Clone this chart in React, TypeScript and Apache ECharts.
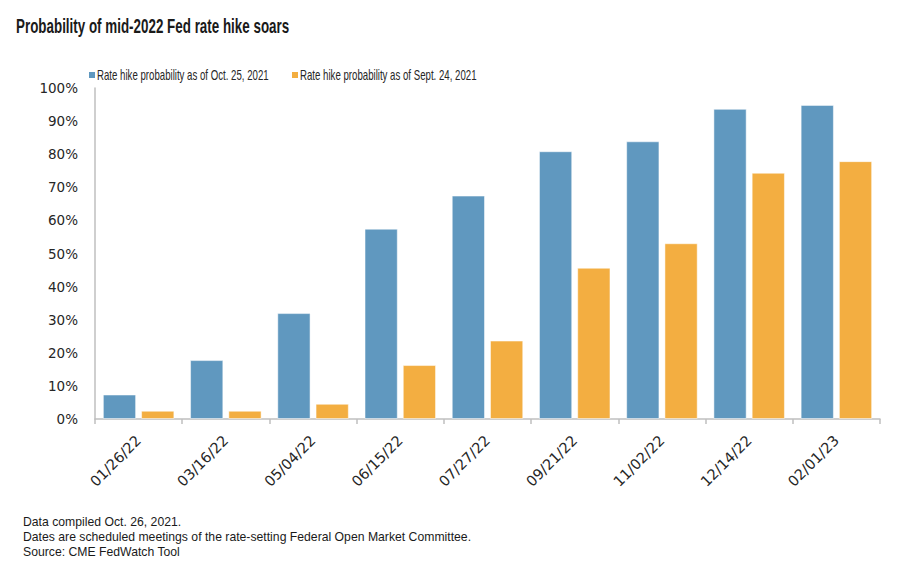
import React, { useEffect, useRef } from "react";
import * as echarts from "echarts";

const categories = ["01/26/22", "03/16/22", "05/04/22", "06/15/22", "07/27/22", "09/21/22", "11/02/22", "12/14/22", "02/01/23"];
const octValues = [7.4, 17.8, 32.0, 57.5, 67.5, 80.9, 83.9, 93.7, 94.9];
const septValues = [2.5, 2.5, 4.6, 16.3, 23.7, 45.7, 53.1, 74.4, 77.9];
const seriesNames = ["Rate hike probability as of Oct. 25, 2021", "Rate hike probability as of Sept. 24, 2021"];
const seriesColors = ["#6098bf", "#f3ae41"];
const titleText = "Probability of mid-2022 Fed rate hike soars";
const footnotes = [
  "Data compiled Oct. 26, 2021.",
  "Dates are scheduled meetings of the rate-setting Federal Open Market Committee.",
  "Source: CME FedWatch Tool",
];

const SANS = "'Liberation Sans', Arial, sans-serif";
const AXISFONT = "'DejaVu Sans', sans-serif";

export default function App() {
  const ref = useRef<HTMLDivElement>(null);
  useEffect(() => {
    if (!ref.current) return;
    const chart = echarts.init(ref.current, undefined, { renderer: "svg" });
    const legendX = [89, 292];
    const graphic: any[] = [
      {
        type: "text",
        x: 16,
        y: 27,
        scaleX: 0.67,
        style: { text: titleText, fontFamily: SANS, fontSize: 20, fontWeight: "bold", fill: "#1a1a1a", verticalAlign: "middle" },
      },
    ];
    seriesNames.forEach((name, i) => {
      graphic.push({
        type: "rect",
        shape: { x: legendX[i], y: 72, width: 6, height: 6 },
        style: { fill: seriesColors[i] },
      });
      graphic.push({
        type: "text",
        x: legendX[i] + 8,
        y: 75,
        scaleX: 0.69,
        style: { text: name, fontFamily: SANS, fontSize: 14, fill: "#262626", verticalAlign: "middle" },
      });
    });
    footnotes.forEach((t, i) => {
      graphic.push({
        type: "text",
        x: 23,
        y: 522 + i * 15,
        scaleX: 0.94,
        style: { text: t, fontFamily: SANS, fontSize: 13, fill: "#1a1a1a", verticalAlign: "middle" },
      });
    });
    chart.setOption({
      animation: false,
      backgroundColor: "#ffffff",
      legend: { show: false, data: seriesNames },
      grid: { left: 95, right: 28, top: 88, bottom: 169, containLabel: false },
      xAxis: {
        type: "category",
        data: categories,
        axisLine: { lineStyle: { color: "#bfbfbf", width: 1.5 } },
        axisTick: { show: true, length: 5, lineStyle: { color: "#bfbfbf", width: 1.5 } },
        axisLabel: { rotate: 45, margin: 19, fontFamily: AXISFONT, fontSize: 14.5, color: "#262626" },
      },
      yAxis: {
        type: "value",
        min: 0,
        max: 100,
        interval: 10,
        splitLine: { show: false },
        axisLine: { show: true, lineStyle: { color: "#bfbfbf", width: 1.5 } },
        axisTick: { show: false },
        axisLabel: { formatter: "{value}%", margin: 17, fontFamily: AXISFONT, fontSize: 13.5, color: "#262626" },
      },
      series: [
        {
          name: seriesNames[0],
          type: "bar",
          data: octValues,
          barGap: "15%",
          barCategoryGap: "18%",
          itemStyle: { color: seriesColors[0], borderColor: "rgba(255,255,255,0.5)", borderWidth: 1 },
        },
        {
          name: seriesNames[1],
          type: "bar",
          data: septValues,
          itemStyle: { color: seriesColors[1], borderColor: "rgba(255,255,255,0.5)", borderWidth: 1 },
        },
      ],
      graphic,
    });
    return () => chart.dispose();
  }, []);
  return <div ref={ref} style={{ position: "fixed", left: 0, top: 0, width: 908, height: 588 }} />;
}
